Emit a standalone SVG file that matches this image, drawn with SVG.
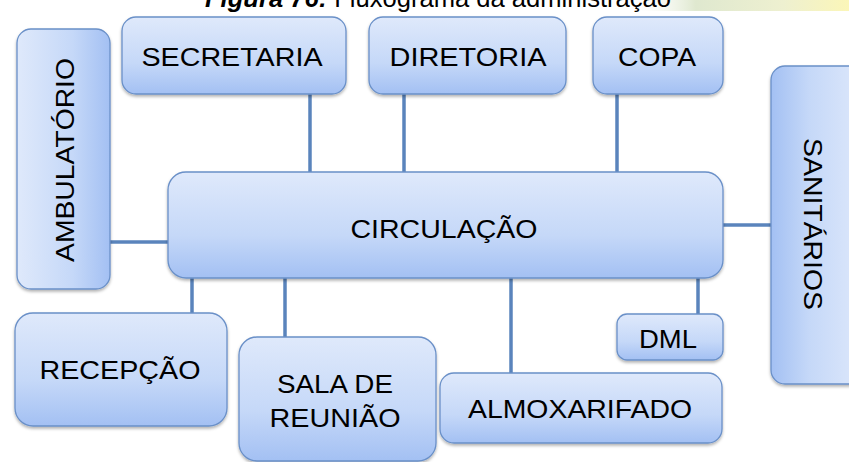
<svg xmlns="http://www.w3.org/2000/svg" width="849" height="462" viewBox="0 0 849 462">
<defs>
<linearGradient id="gv" x1="0" y1="0" x2="0" y2="1">
<stop offset="0" stop-color="#dfe9fb"/>
<stop offset="0.6" stop-color="#c5d8f8"/>
<stop offset="1" stop-color="#a3c0f3"/>
</linearGradient>
<linearGradient id="gl" x1="0" y1="0" x2="1" y2="0">
<stop offset="0" stop-color="#dfe9fb"/>
<stop offset="0.6" stop-color="#c5d8f8"/>
<stop offset="1" stop-color="#a3c0f3"/>
</linearGradient>
<linearGradient id="gr" x1="1" y1="0" x2="0" y2="0">
<stop offset="0" stop-color="#dfe9fb"/>
<stop offset="0.6" stop-color="#c5d8f8"/>
<stop offset="1" stop-color="#a3c0f3"/>
</linearGradient>
<linearGradient id="bg" x1="0" y1="0" x2="1" y2="0">
<stop offset="0" stop-color="#ffffff" stop-opacity="0"/>
<stop offset="0.3" stop-color="#dfe8cf"/>
<stop offset="0.7" stop-color="#eef0d0"/>
<stop offset="1" stop-color="#fbf6b8"/>
</linearGradient>
<filter id="sh" x="-10%" y="-10%" width="120%" height="130%">
<feDropShadow dx="0" dy="2" stdDeviation="1.5" flood-color="#000" flood-opacity="0.3"/>
</filter>
</defs>
<style>
.box{stroke:#6a90c8;stroke-width:1.3;filter:url(#sh)}
.v{fill:url(#gv)}
.l{fill:url(#gl)}
.r{fill:url(#gr)}
.t{font-family:"Liberation Sans",Arial,sans-serif;font-size:26px;fill:#000;text-anchor:middle}
.c{stroke:#5a84bc;stroke-width:3.5;fill:none}
</style>
<rect x="630" y="0" width="219" height="11" fill="url(#bg)"/>
<text x="438" y="7" font-family="Liberation Sans,Arial,sans-serif" font-size="25" text-anchor="middle" textLength="466" lengthAdjust="spacingAndGlyphs"><tspan font-weight="bold" font-style="italic">Figura 76:</tspan> Fluxograma da administração</text>
<g id="connectors">
<line class="c" x1="110" y1="242" x2="168" y2="242"/>
<line class="c" x1="723" y1="225" x2="771" y2="225"/>
<line class="c" x1="310" y1="90" x2="310" y2="172"/>
<line class="c" x1="404" y1="90" x2="404" y2="172"/>
<line class="c" x1="617" y1="90" x2="617" y2="172"/>
<line class="c" x1="192" y1="278" x2="192" y2="314"/>
<line class="c" x1="285" y1="278" x2="285" y2="338"/>
<line class="c" x1="511" y1="278" x2="511" y2="374"/>
<line class="c" x1="698" y1="278" x2="698" y2="315"/>
</g>
<g id="ambulatorio">
<rect class="box l" x="17" y="29" width="93" height="260" rx="14"/>
<text class="t" transform="translate(74,160) rotate(-90)" textLength="204" lengthAdjust="spacingAndGlyphs">AMBULATÓRIO</text>
</g>
<g id="secretaria">
<rect class="box v" x="122" y="17" width="224" height="77" rx="14"/>
<text class="t" x="232" y="66" textLength="181" lengthAdjust="spacingAndGlyphs">SECRETARIA</text>
</g>
<g id="diretoria">
<rect class="box v" x="369" y="17" width="197" height="77" rx="14"/>
<text class="t" x="468" y="66" textLength="157" lengthAdjust="spacingAndGlyphs">DIRETORIA</text>
</g>
<g id="copa">
<rect class="box v" x="593" y="17" width="130" height="77" rx="14"/>
<text class="t" x="657" y="66" textLength="78" lengthAdjust="spacingAndGlyphs">COPA</text>
</g>
<g id="sanitarios">
<rect class="box r" x="771" y="66" width="95" height="318" rx="14"/>
<text class="t" transform="translate(804,224) rotate(90)" textLength="172" lengthAdjust="spacingAndGlyphs">SANITÁRIOS</text>
</g>
<g id="circulacao">
<rect class="box v" x="168" y="172" width="555" height="106" rx="18"/>
<text class="t" x="444" y="238" textLength="187" lengthAdjust="spacingAndGlyphs">CIRCULAÇÃO</text>
</g>
<g id="recepcao">
<rect class="box v" x="15" y="313" width="212" height="113" rx="18"/>
<text class="t" x="120" y="379" textLength="161" lengthAdjust="spacingAndGlyphs">RECEPÇÃO</text>
</g>
<g id="sala-de-reuniao">
<rect class="box v" x="239" y="337" width="197" height="124" rx="18"/>
<text class="t" x="335" y="393" textLength="116" lengthAdjust="spacingAndGlyphs">SALA DE</text>
<text class="t" x="335" y="427" textLength="131" lengthAdjust="spacingAndGlyphs">REUNIÃO</text>
</g>
<g id="dml">
<rect class="box v" x="617" y="314" width="106" height="46" rx="10"/>
<text class="t" x="668" y="348" textLength="58" lengthAdjust="spacingAndGlyphs">DML</text>
</g>
<g id="almoxarifado">
<rect class="box v" x="440" y="373" width="282" height="70" rx="14"/>
<text class="t" x="580" y="418" textLength="224" lengthAdjust="spacingAndGlyphs">ALMOXARIFADO</text>
</g>
</svg>
